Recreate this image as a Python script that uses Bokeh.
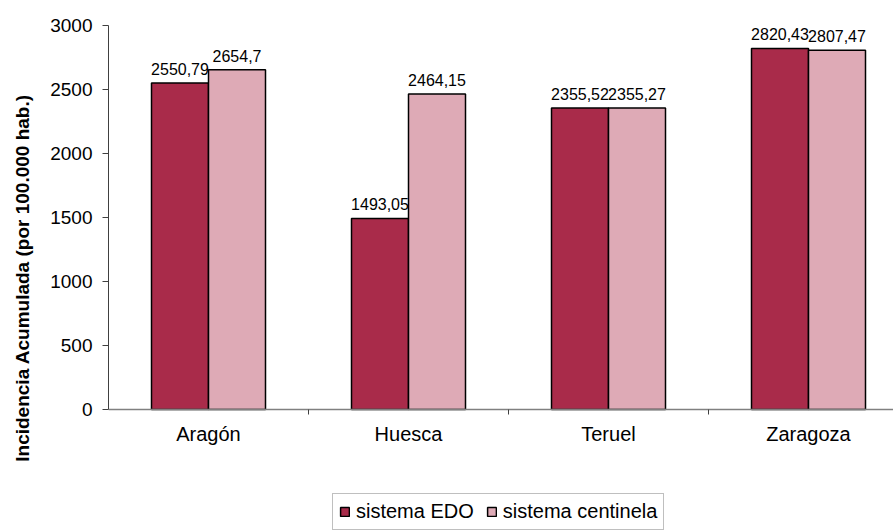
from bokeh.plotting import figure
from bokeh.models import (ColumnDataSource, Range1d, FixedTicker, Legend, LegendItem,
                          LabelSet)
from bokeh.core.properties import value
from bokeh.transform import dodge
from bokeh.embed import file_html
from bokeh.resources import INLINE

categories = ["Aragón", "Huesca", "Teruel", "Zaragoza"]
edo = [2550.79, 1493.05, 2355.52, 2820.43]
centinela = [2654.7, 2464.15, 2355.27, 2807.47]
edo_labels = ["2550,79", "1493,05", "2355,52", "2820,43"]
centinela_labels = ["2654,7", "2464,15", "2355,27", "2807,47"]
y_ticks = [0, 500, 1000, 1500, 2000, 2500, 3000]

FONT = "Liberation Sans"
RED = "#A92B4A"
PINK = "#DEAAB6"

# layout: value axis occupies 384 px, with 121 px of room below zero for labels/legend
Y_MAX = 3000
AXIS_PX = 384
BELOW_PX = 121
y_start = -Y_MAX * BELOW_PX / AXIS_PX

pos = [i + 0.5 for i in range(len(categories))]
src = ColumnDataSource(dict(x=pos, edo=edo, cen=centinela,
                            edo_lab=edo_labels, cen_lab=centinela_labels))

p = figure(frame_width=785, frame_height=AXIS_PX + BELOW_PX, output_backend="svg",
           toolbar_location=None,
           x_range=Range1d(0, 3.925), y_range=Range1d(y_start, Y_MAX),
           min_border_left=108, min_border_top=25, min_border_right=0,
           min_border_bottom=0)
p.outline_line_color = None
p.xgrid.visible = False
p.ygrid.visible = False

bw = 0.285
r1 = p.vbar(x=dodge("x", -bw / 2, range=p.x_range), top="edo", bottom=0, width=bw,
            source=src, fill_color=RED, line_color="black", line_width=1.5)
r2 = p.vbar(x=dodge("x", bw / 2, range=p.x_range), top="cen", bottom=0, width=bw,
            source=src, fill_color=PINK, line_color="black", line_width=1.5)

for col, lab, off in (("edo", "edo_lab", -bw / 2), ("cen", "cen_lab", bw / 2)):
    ls = LabelSet(x=dodge("x", off, range=p.x_range), y=col, text=lab, source=src,
                  text_align="center", text_baseline="bottom", y_offset=8,
                  text_font=value(FONT), text_font_size=value("16px"),
                  text_color="black")
    p.add_layout(ls)

# x axis, pinned at zero
p.xaxis.fixed_location = 0
p.xaxis.ticker = FixedTicker(ticks=pos, minor_ticks=list(range(1, len(categories))))
p.xaxis.major_label_overrides = {pp: c for pp, c in zip(pos, categories)}
p.xaxis.major_tick_out = 0
p.xaxis.major_tick_in = 0
p.xaxis.minor_tick_out = 5
p.xaxis.minor_tick_in = 0
p.xaxis.minor_tick_line_color = "#404040"
p.xaxis.axis_line_color = "#808080"
p.xaxis.axis_line_width = 1.5
p.xaxis.major_label_text_font = FONT
p.xaxis.major_label_text_font_size = "20px"
p.xaxis.major_label_text_color = "black"
p.xaxis.major_label_standoff = 8

# y axis
p.yaxis.bounds = (0, Y_MAX)
p.yaxis.ticker = FixedTicker(ticks=y_ticks, minor_ticks=[])
p.yaxis.major_tick_out = 6
p.yaxis.major_tick_in = 0
p.yaxis.major_tick_line_color = "#404040"
p.yaxis.axis_line_color = "#404040"
p.yaxis.major_label_text_font = FONT
p.yaxis.major_label_text_font_size = "19px"
p.yaxis.major_label_text_color = "black"
p.yaxis.major_label_standoff = 10
p.yaxis.axis_label = "Incidencia Acumulada (por 100.000 hab.)"
p.yaxis.axis_label_text_font = FONT
p.yaxis.axis_label_text_font_size = "19px"
p.yaxis.axis_label_text_font_style = "bold"
p.yaxis.axis_label_text_color = "black"
p.yaxis.axis_label_standoff = 14

legend = Legend(items=[LegendItem(label="sistema EDO", renderers=[r1]),
                       LegendItem(label="sistema centinela", renderers=[r2])],
                orientation="horizontal", location=(224, 0),
                label_text_font=FONT, label_text_font_size="20px",
                label_text_color="black", glyph_width=11, glyph_height=11,
                label_standoff=6, spacing=12, padding=6, margin=0,
                border_line_color="#808080", border_line_width=1,
                background_fill_alpha=1)
p.add_layout(legend, "center")

open("out.html", "w").write(file_html(p, INLINE))
